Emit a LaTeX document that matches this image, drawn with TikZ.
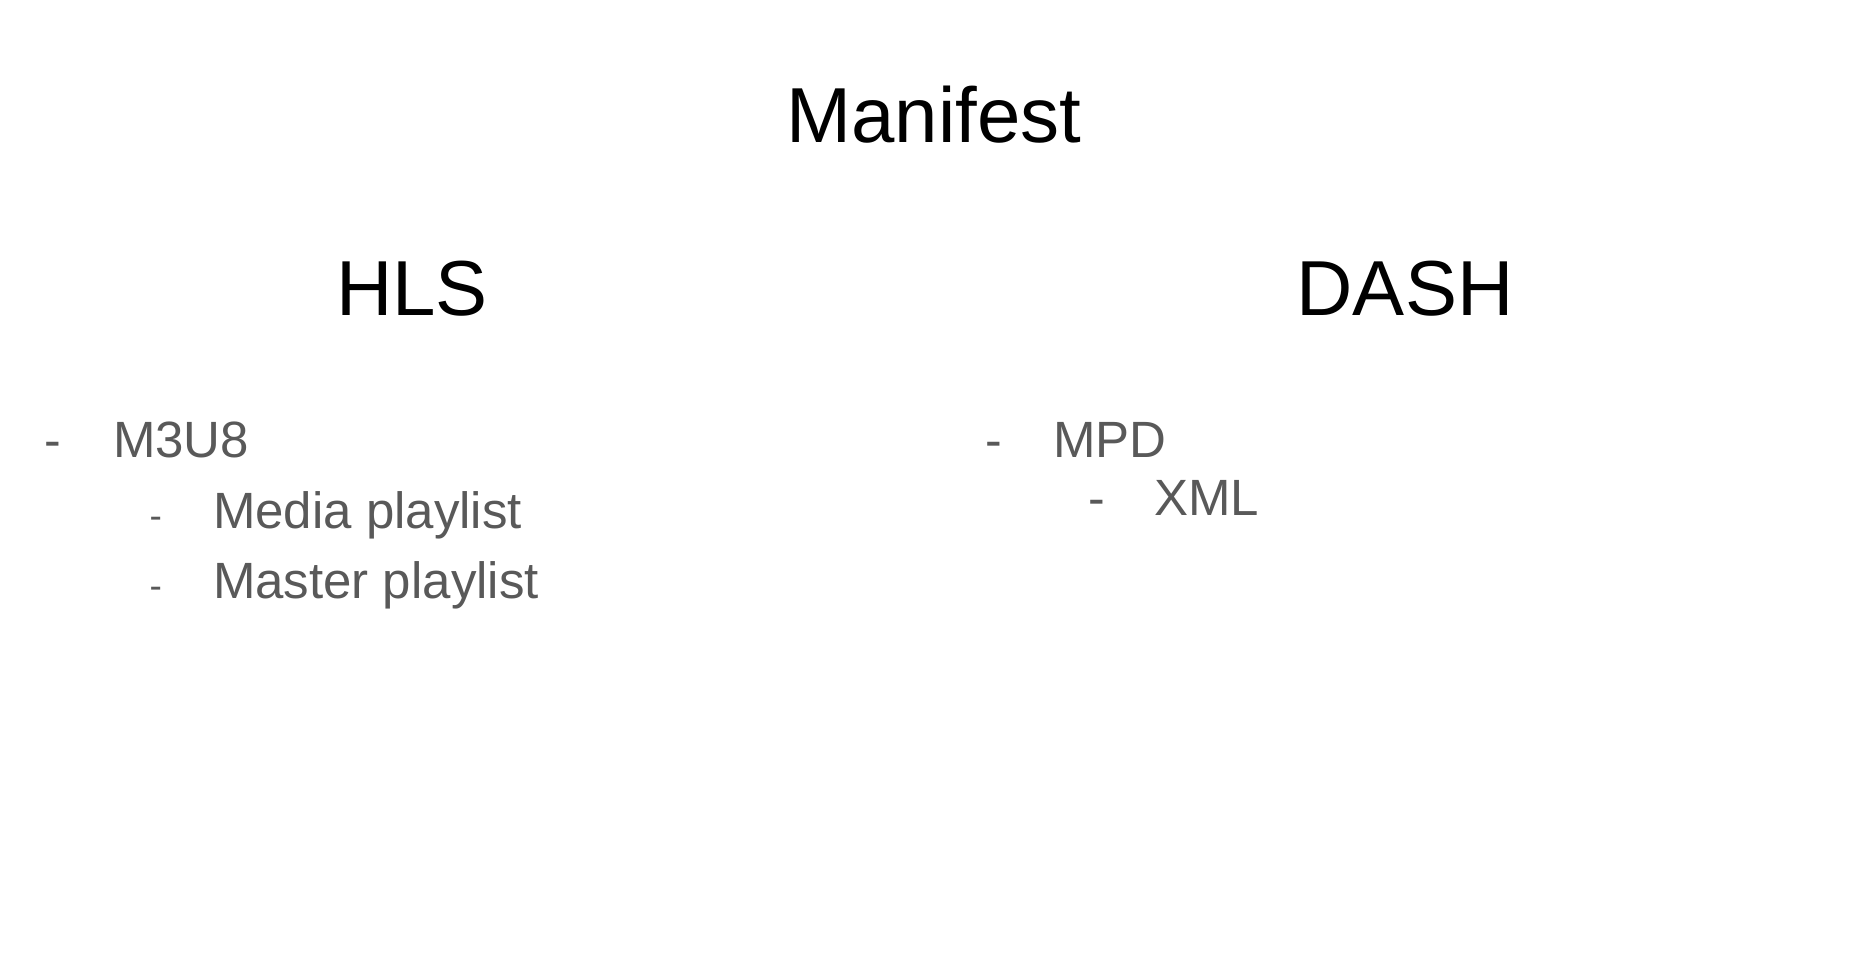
\documentclass[tikz,border=0pt]{standalone}
\usepackage{fontspec}
\setmainfont{Liberation Sans}
\definecolor{itemgray}{RGB}{89,89,89}
\begin{document}
\begin{tikzpicture}[x=1pt,y=-1pt,
  every node/.style={inner sep=0pt,outer sep=0pt},
  heading/.style={anchor=base,font=\fontsize{78}{90}\selectfont,text=black},
  itemtext/.style={anchor=base west,font=\fontsize{51}{60}\selectfont,text=itemgray},
  bulletA/.style={anchor=base west,font=\fontsize{50}{60}\selectfont,text=itemgray},
  bulletB/.style={anchor=base west,font=\fontsize{37}{44}\selectfont,text=itemgray}]
\useasboundingbox[fill=white] (0,0) rectangle (1870,968);
\node[heading] (title) at (934,143) {Manifest};
\node[heading] (hls) at (412,315) {HLS};
\node[heading] (dash) at (1405,315) {DASH};
% HLS list
\node[bulletA] (b1) at (44,457) {-};
\node[itemtext] (m3u8) at (113,457) {M3U8};
\node[bulletB] (b2) at (149.5,528) {-};
\node[itemtext] (media) at (213,528) {Media playlist};
\node[bulletB] (b3) at (149.5,598) {-};
\node[itemtext] (master) at (213,598) {Master playlist};
% DASH list
\node[bulletA] (b4) at (985,457) {-};
\node[itemtext] (mpd) at (1053,457) {MPD};
\node[bulletA] (b5) at (1088,515) {-};
\node[itemtext] (xml) at (1154,515) {XML};
\end{tikzpicture}
\end{document}
